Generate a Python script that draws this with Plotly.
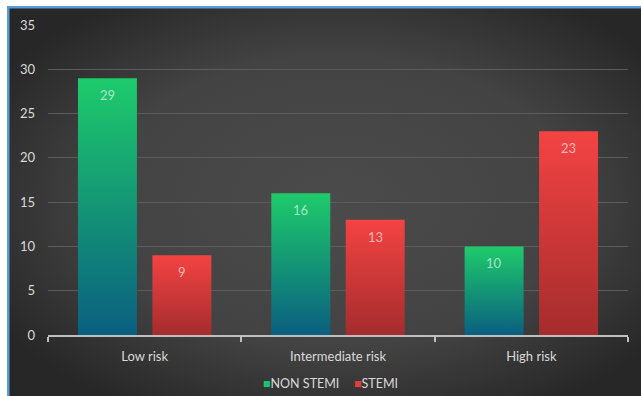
import base64
import plotly.graph_objects as go

# Data
categories = ["Low risk", "Intermediate risk", "High risk"]
non_stemi = [29, 16, 10]
stemi = [9, 13, 23]
y_ticks = [0, 5, 10, 15, 20, 25, 30, 35]

# Styling
W, H = 641, 396
M = dict(l=48, r=13, t=25, b=61, autoexpand=False)
BAR_W = 0.305
INNER_GAP = 0.08
FONT = "Lato"
TEXT_GREY = "#d9d9d9"

series = [
    ("NON STEMI", non_stemi, -1, "#0a5f80", "#1ecb6b", "#1ec46b", 0.367),
    ("STEMI", stemi, 1, "#a52c2d", "#f44343", "#e83c3c", 0.524),
]

fig = go.Figure()

# Each bar is a filled rectangle with a vertical gradient (bottom -> top)
for name, values, side, bottom_c, top_c, legend_c, legend_x in series:
    for i, v in enumerate(values):
        if side < 0:
            x0, x1 = i - INNER_GAP / 2 - BAR_W, i - INNER_GAP / 2
        else:
            x0, x1 = i + INNER_GAP / 2, i + INNER_GAP / 2 + BAR_W
        fig.add_trace(go.Scatter(
            x=[x0, x0, x1, x1, x0],
            y=[0, v, v, 0, 0],
            mode="lines",
            line=dict(width=0),
            fill="toself",
            fillgradient=dict(type="vertical",
                              colorscale=[[0, bottom_c], [1, top_c]]),
            hoverinfo="skip",
            showlegend=False,
            name=name,
        ))
        fig.add_annotation(
            x=(x0 + x1) / 2, y=v, xref="x", yref="y",
            text=str(v), showarrow=False, yshift=-17,
            font=dict(family=FONT, size=13, color="rgba(255,255,255,0.62)"),
        )
    # compact legend entry below the axis
    fig.add_annotation(
        x=legend_x, y=-0.155, xref="paper", yref="paper", xanchor="left",
        yanchor="middle", showarrow=False,
        text=f"<span style='color:{legend_c}'>■</span>{name}",
        font=dict(family=FONT, size=12.5, color=TEXT_GREY),
    )

# Office-style dark gradient backdrop with blue frame
svg = f"""<svg xmlns='http://www.w3.org/2000/svg' width='{W}' height='{H}' viewBox='0 0 {W} {H}' preserveAspectRatio='none'>
<defs><radialGradient id='g' cx='0.52' cy='0.5' r='0.62'>
<stop offset='0' stop-color='#4b4b4b'/><stop offset='0.6' stop-color='#434343'/><stop offset='1' stop-color='#272727'/></radialGradient></defs>
<rect width='{W}' height='{H}' fill='#ffffff'/>
<rect x='7' y='6' width='{W - 7}' height='{H - 6}' fill='url(#g)'/>
<rect x='7' y='6' width='{W - 7}' height='2.5' fill='#5b9bd5'/>
<rect x='7' y='6' width='2.5' height='{H - 6}' fill='#5b9bd5'/>
</svg>"""
src = "data:image/svg+xml;base64," + base64.b64encode(svg.encode()).decode()

pw = W - M["l"] - M["r"]
ph = H - M["t"] - M["b"]
fig.add_layout_image(
    source=src, xref="paper", yref="paper",
    x=-M["l"] / pw, y=1 + M["t"] / ph,
    sizex=W / pw, sizey=H / ph,
    xanchor="left", yanchor="top", sizing="stretch", layer="below",
)

fig.update_layout(
    width=W, height=H, margin=M,
    paper_bgcolor="#333333", plot_bgcolor="rgba(0,0,0,0)",
    font=dict(family=FONT, size=13, color=TEXT_GREY),
    showlegend=False,
    xaxis=dict(
        range=[-0.5, 2.5], tickmode="array",
        tickvals=list(range(len(categories))), ticktext=categories,
        ticks="", showgrid=False, zeroline=False,
        showline=True, linecolor="#bfbfbf", linewidth=1.5,
        ticklabelstandoff=9,
        minor=dict(tickmode="array", tickvals=[-0.5, 0.5, 1.5, 2.5],
                   ticks="outside", ticklen=5, tickcolor="#bfbfbf",
                   tickwidth=1.5, showgrid=False),
        fixedrange=True,
    ),
    yaxis=dict(
        range=[0, 35], tickmode="array", tickvals=y_ticks,
        showgrid=True, gridcolor="#5c5c5c", gridwidth=1,
        zeroline=False, showline=False, ticks="",
        ticklabelstandoff=12, fixedrange=True,
    ),
)

fig.write_html("out.html")
